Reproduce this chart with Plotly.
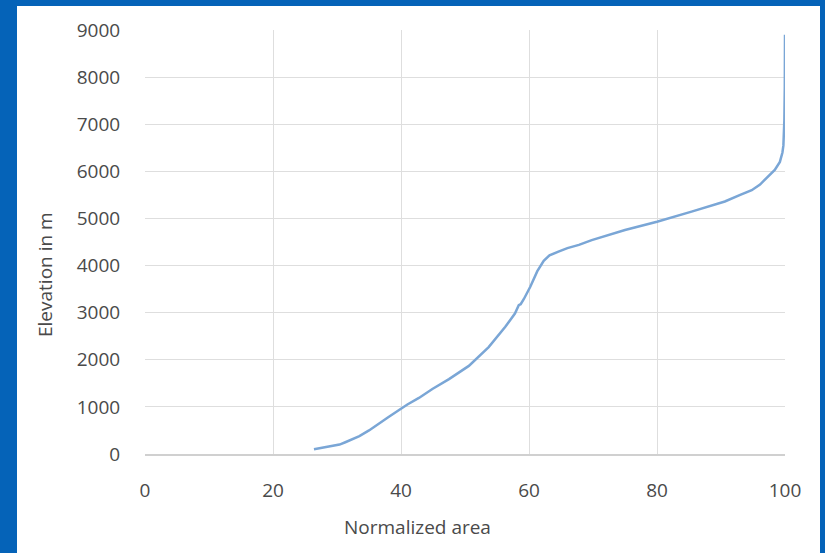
import plotly.graph_objects as go

# Data
normalized_area = [26.4, 28.0, 30.4, 31.3, 32.3, 33.5, 35.0, 36.6, 38.0, 39.7, 41.0, 42.8, 44.9,
                   47.5, 50.6, 53.7, 56.3, 57.8, 58.4, 58.7, 59.2, 60.2, 61.3, 62.3, 63.2,
                   64.6, 66.0, 67.8, 69.8, 75.0, 80.0, 85.4, 90.6, 93.0, 94.8, 96.1, 96.8,
                   97.6, 98.4, 99.2, 99.6, 99.75, 99.9, 99.97, 100.0]
elevation_m = [100, 140, 200, 250, 310, 380, 500, 640, 780, 935, 1050, 1190, 1380,
               1590, 1870, 2270, 2700, 2980, 3160, 3180, 3290, 3550, 3880, 4100, 4215,
               4295, 4370, 4440, 4540, 4755, 4930, 5145, 5360, 5500, 5600, 5720, 5820,
               5930, 6030, 6200, 6400, 6550, 7090, 7800, 8900]

x_ticks = [0, 20, 40, 60, 80, 100]
y_ticks = [0, 1000, 2000, 3000, 4000, 5000, 6000, 7000, 8000, 9000]
x_title = "Normalized area"
y_title = "Elevation in m"

W, H = 825, 553
L, R, T, B = 145, 40, 30, 99
pw, ph = W - L - R, H - T - B

def px_x(p):
    return (p - L) / pw

def px_y(p):
    return (H - B - p) / ph

text_color = "#4A4A4A"
font_family = "Open Sans, Carlito, Calibri, sans-serif"

fig = go.Figure()
fig.add_trace(go.Scatter(
    x=normalized_area, y=elevation_m, mode="lines",
    line=dict(color="#7AA6D6", width=2.5),
    showlegend=False, hoverinfo="skip",
))

fig.update_layout(
    width=W, height=H,
    margin=dict(l=L, r=R, t=T, b=B),
    paper_bgcolor="#0563B8",
    plot_bgcolor="white",
    font=dict(family=font_family, size=19, color=text_color),
    shapes=[dict(type="rect", xref="paper", yref="paper",
                 x0=px_x(17), x1=px_x(820), y0=px_y(553 + 5), y1=px_y(6),
                 fillcolor="white", line=dict(width=0), layer="below")],
    annotations=[
        dict(text=x_title, xref="paper", yref="paper", x=px_x(417), y=px_y(527),
             xanchor="center", yanchor="middle", showarrow=False,
             font=dict(size=19, color=text_color, family=font_family)),
        dict(text=y_title, xref="paper", yref="paper", x=px_x(45), y=px_y(275),
             xanchor="center", yanchor="middle", showarrow=False, textangle=-90,
             font=dict(size=19, color=text_color, family=font_family)),
    ],
)

fig.update_xaxes(
    range=[0, 100], tickvals=x_ticks, showgrid=True, gridcolor="#DEDEDE", gridwidth=1,
    zeroline=False, showline=True, linecolor="#D0D0D0", linewidth=1.5,
    ticks="outside", ticklen=18, tickcolor="rgba(0,0,0,0)",
    tickfont=dict(size=19, color=text_color),
)
fig.update_yaxes(
    range=[0, 9000], tickvals=y_ticks, showgrid=True, gridcolor="#DEDEDE", gridwidth=1,
    zeroline=False, showline=False,
    ticks="outside", ticklen=20, tickcolor="rgba(0,0,0,0)",
    tickfont=dict(size=19, color=text_color),
)

fig.write_html("out.html")
